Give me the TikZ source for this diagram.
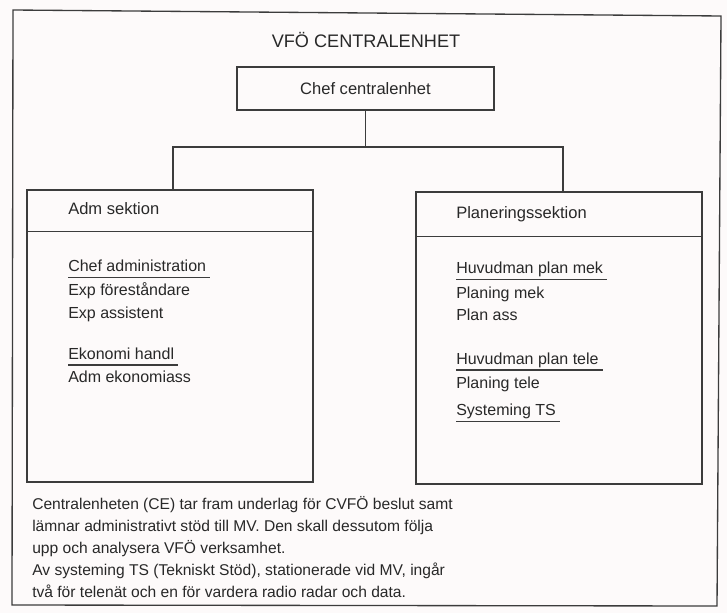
\documentclass[tikz,border=0pt]{standalone}
\usepackage{fontspec}
\setmainfont{Liberation Sans}
\definecolor{bgc}{RGB}{253,250,250}
\definecolor{ink}{RGB}{40,40,40}
\definecolor{linec}{RGB}{60,60,60}
\tikzset{
  frame/.style={draw=linec, line width=1pt, line join=miter},
  box/.style={draw=linec, line width=1pt, inner sep=0pt},
  conn/.style={draw=linec, line width=1pt},
  uline/.style={draw=linec, line width=1pt},
  head/.style={anchor=base west, inner sep=0pt, text=ink, font=\fontsize{12.4}{14}\selectfont},
  item/.style={anchor=base west, inner sep=0pt, text=ink, font=\fontsize{12}{14}\selectfont},
  body/.style={anchor=base west, inner sep=0pt, text=ink, font=\fontsize{11.7}{14}\selectfont},
}
\begin{document}
\begin{tikzpicture}[x=0.75pt,y=-0.75pt]
\useasboundingbox (0,0) rectangle (727,613);
\fill[bgc] (0,0) rectangle (727,613);
% outer frame (slightly skewed, as scanned)
\draw[frame] (13,10) -- (721,16) -- (717,606) -- (12,605) -- cycle;
% title
\node[anchor=base, inner sep=0pt, text=ink, font=\fontsize{13.6}{16}\selectfont] (title) at (366,48) {VFÖ CENTRALENHET};
% chef box
\node[box, minimum width=192.75pt, minimum height=32.25pt, text=ink, font=\fontsize{12.4}{14}\selectfont] (chef) at (365.5,88.5) {Chef centralenhet};
% section boxes
\node[box, minimum width=214.5pt, minimum height=219pt] (adm) at (170,336) {};
\node[box, minimum width=214.5pt, minimum height=219pt] (plan) at (559,338) {};
\draw[conn] ([yshift=-31.5pt]adm.north west) -- ([yshift=-31.5pt]adm.north east);
\draw[conn] ([yshift=-33.75pt]plan.north west) -- ([yshift=-33.75pt]plan.north east);
% connectors
\coordinate (j) at (365.5,147);
\draw[conn] (chef.south) -- (j);
\draw[conn] ([xshift=2.25pt]adm.north) |- (j) -| ([xshift=3pt]plan.north);
% headers
\node[head] (admh) at (68,214) {Adm sektion};
\node[head] (planh) at (456,218) {Planeringssektion};
% left items
\node[item] (a1) at (68,271.5) {Chef administration};
\node[item] (a2) at (68,295.5) {Exp föreståndare};
\node[item] (a3) at (68,318.5) {Exp assistent};
\node[item] (a4) at (68,359) {Ekonomi handl};
\node[item] (a5) at (68,382.5) {Adm ekonomiass};
\draw[uline] ([yshift=-4.5pt]a1.base west) -- ([yshift=-4.5pt,xshift=3pt]a1.base east);
\draw[uline] ([yshift=-4.5pt]a4.base west) -- ([yshift=-4.5pt,xshift=3pt]a4.base east);
% right items
\node[item] (p1) at (456,273.5) {Huvudman plan mek};
\node[item] (p2) at (456,298) {Planing mek};
\node[item] (p3) at (456,320.5) {Plan ass};
\node[item] (p4) at (456,364) {Huvudman plan tele};
\node[item] (p5) at (456,388.5) {Planing tele};
\node[item] (p6) at (456,415.5) {Systeming TS};
\draw[uline] ([yshift=-4.5pt]p1.base west) -- ([yshift=-4.5pt,xshift=3pt]p1.base east);
\draw[uline] ([yshift=-4.5pt]p4.base west) -- ([yshift=-4.5pt,xshift=3pt]p4.base east);
\draw[uline] ([yshift=-4.5pt]p6.base west) -- ([yshift=-4.5pt,xshift=3pt]p6.base east);
% bottom text
\node[body] (l1) at (32,509) {Centralenheten (CE) tar fram underlag för CVFÖ beslut samt};
\node[body] (l2) at (32,531) {lämnar administrativt stöd till MV. Den skall dessutom följa};
\node[body] (l3) at (32,553) {upp och analysera VFÖ verksamhet.};
\node[body] (l4) at (32,575) {Av systeming TS (Tekniskt Stöd), stationerade vid MV, ingår};
\node[body] (l5) at (32,597) {två för telenät och en för vardera radio radar och data.};
\end{tikzpicture}
\end{document}
